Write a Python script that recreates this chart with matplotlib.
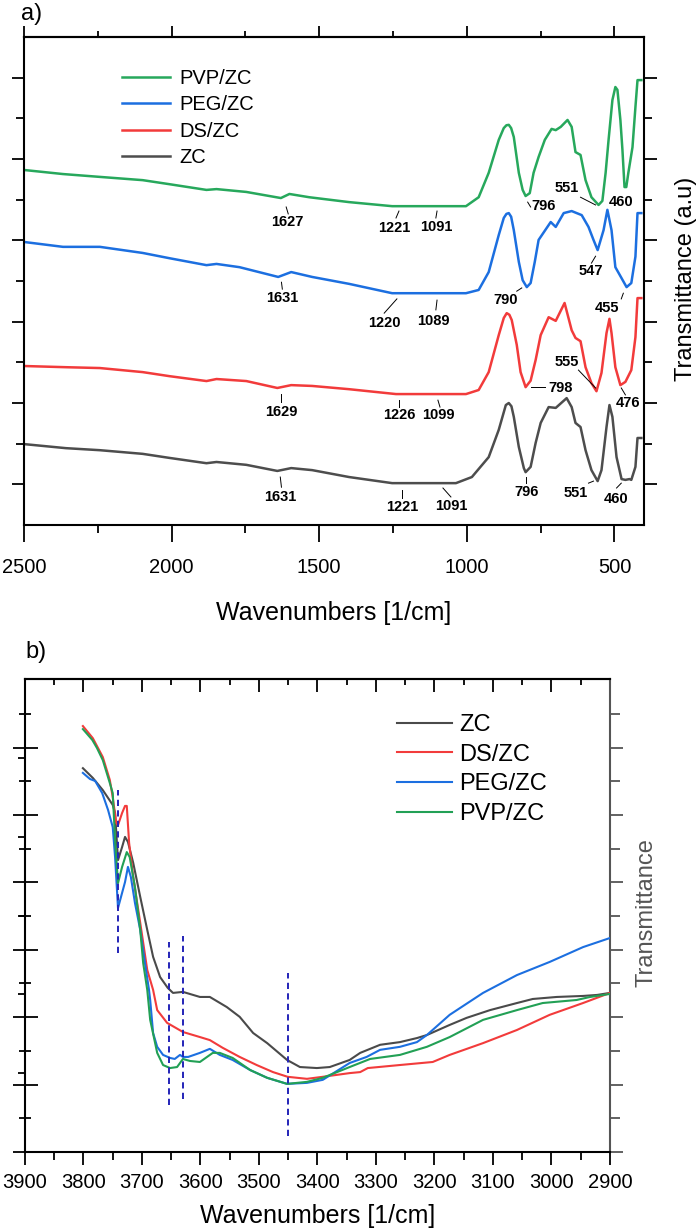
import matplotlib
matplotlib.use("Agg")
import matplotlib.pyplot as plt
from matplotlib.ticker import FixedLocator, MultipleLocator

plt.rcParams['font.family'] = ['Liberation Sans', 'DejaVu Sans']

# ---------------- panel a) : 2500-400 1/cm ----------------
wn_a_pvp = [2500, 2368, 2243, 2098, 2007, 1882, 1848, 1747, 1630, 1601, 1534, 1399, 1253, 1003,
            960, 926, 892, 875, 866, 858, 850, 841, 824, 811, 801, 787, 774, 757, 736, 713, 699,
            682, 659, 645, 632, 615, 598, 578, 554, 541, 530, 520, 507, 497, 490, 480, 473, 466,
            460, 453, 439, 429, 422, 409]
t_a_pvp = [8.73, 8.63, 8.56, 8.48, 8.38, 8.24, 8.26, 8.19, 8.04, 8.14, 8.06, 7.94, 7.84, 7.84,
           8.06, 8.66, 9.47, 9.76, 9.83, 9.84, 9.76, 9.54, 8.66, 8.24, 8.09, 8.16, 8.66, 9.05,
           9.47, 9.74, 9.71, 9.79, 9.96, 9.79, 9.17, 9.10, 8.48, 8.06, 7.87, 7.97, 8.66, 9.47,
           10.45, 10.77, 10.70, 9.96, 9.22, 8.31, 8.31, 8.66, 9.29, 10.28, 10.94, 10.94]

wn_a_peg = [2500, 2368, 2243, 2098, 2007, 1882, 1848, 1770, 1639, 1595, 1524, 1399, 1253, 1003,
            960, 926, 892, 875, 866, 858, 850, 841, 824, 811, 797, 784, 770, 757, 716, 699, 672,
            645, 611, 588, 571, 557, 537, 524, 510, 497, 476, 459, 443, 429, 422, 409]
t_a_peg = [6.96, 6.84, 6.84, 6.69, 6.56, 6.39, 6.42, 6.34, 6.10, 6.22, 6.10, 5.93, 5.70, 5.70,
           5.78, 6.22, 7.13, 7.55, 7.65, 7.67, 7.58, 7.25, 6.47, 6.02, 5.85, 5.95, 6.47, 7.01,
           7.45, 7.33, 7.67, 7.72, 7.62, 7.33, 7.01, 6.76, 7.25, 7.75, 7.25, 6.34, 6.07, 5.85,
           5.95, 6.60, 7.67, 7.67]

wn_a_ds = [2500, 2355, 2243, 2098, 2007, 1882, 1848, 1747, 1642, 1595, 1524, 1399, 1240, 1003,
           960, 926, 892, 875, 865, 856, 848, 831, 818, 801, 784, 767, 750, 723, 699, 669, 645,
           632, 615, 598, 578, 561, 544, 527, 517, 510, 497, 480, 463, 443, 429, 422, 409]
t_a_ds = [3.91, 3.88, 3.86, 3.76, 3.66, 3.54, 3.59, 3.54, 3.37, 3.44, 3.42, 3.34, 3.22, 3.22,
          3.32, 3.76, 4.67, 5.09, 5.21, 5.17, 5.04, 4.43, 3.76, 3.39, 3.55, 4.06, 4.67, 5.11,
          5.02, 5.46, 4.79, 4.60, 4.52, 3.88, 3.49, 3.29, 3.74, 4.72, 5.07, 4.72, 3.88, 3.44,
          3.52, 3.81, 4.62, 5.58, 5.58]

wn_a_zc = [2500, 2358, 2243, 2098, 2007, 1882, 1848, 1747, 1642, 1595, 1524, 1399, 1253, 1037,
           983, 926, 892, 868, 858, 849, 841, 824, 807, 801, 784, 767, 750, 723, 699, 662, 645,
           632, 615, 598, 578, 557, 544, 527, 517, 507, 493, 476, 463, 449, 443, 429, 422, 409]
t_a_zc = [1.99, 1.89, 1.84, 1.75, 1.65, 1.52, 1.55, 1.48, 1.33, 1.40, 1.35, 1.18, 1.03, 1.03,
          1.18, 1.67, 2.34, 2.95, 3.00, 2.92, 2.66, 1.92, 1.40, 1.30, 1.43, 2.02, 2.51, 2.90,
          2.88, 3.12, 2.90, 2.51, 2.41, 1.84, 1.35, 1.08, 1.35, 2.41, 2.95, 2.66, 1.67, 1.13,
          1.11, 1.13, 1.11, 1.43, 2.14, 2.14]

# peak labels: text, text position, leader line (x1, y1, x2, y2)
peak_labels = [
    ('1627', 1608, 7.45, 1612, 7.82, 1605, 7.65),
    ('1221', 1247, 7.30, 1230, 7.72, 1240, 7.55),
    ('1091', 1105, 7.33, 1101, 7.72, 1105, 7.55),
    ('796', 740, 7.84, 794, 7.94, 784, 7.82),
    ('551', 662, 8.29, 615, 8.06, 564, 7.87),
    ('460', 477, 7.94, None, None, None, None),
    ('1631', 1625, 5.58, 1628, 5.97, 1625, 5.80),
    ('1220', 1280, 4.97, 1237, 5.56, 1280, 5.21),
    ('1089', 1112, 5.02, 1101, 5.53, 1105, 5.29),
    ('790', 868, 5.53, 831, 5.75, 814, 5.83),
    ('547', 581, 6.25, 564, 6.61, 578, 6.44),
    ('455', 524, 5.34, 470, 5.70, 477, 5.56),
    ('1629', 1628, 2.78, 1628, 3.22, 1628, 3.02),
    ('1226', 1230, 2.70, 1230, 3.07, 1230, 2.90),
    ('1099', 1095, 2.70, 1098, 3.07, 1091, 2.90),
    ('798', 683, 3.37, 784, 3.39, 737, 3.39),
    ('555', 662, 4.01, 622, 3.81, 564, 3.37),
    ('476', 453, 3.00, 477, 3.37, 463, 3.20),
    ('1631', 1632, 0.69, 1632, 1.18, 1628, 0.93),
    ('1221', 1220, 0.44, 1220, 0.86, 1220, 0.66),
    ('1091', 1054, 0.47, 1081, 0.91, 1054, 0.69),
    ('796', 798, 0.81, 798, 1.18, 798, 1.03),
    ('551', 632, 0.79, 588, 1.03, 571, 1.08),
    ('460', 493, 0.64, 493, 0.91, 477, 1.03),
]

# ---------------- panel b) : 3900-2900 1/cm ----------------
wn_b_zc = [3801, 3784, 3767, 3750, 3746, 3741, 3734, 3729, 3724, 3715, 3703, 3691, 3681, 3669,
           3656, 3647, 3630, 3601, 3584, 3555, 3533, 3510, 3486, 3452, 3430, 3401, 3379, 3345,
           3327, 3293, 3259, 3230, 3213, 3174, 3145, 3105, 3059, 3032, 2991, 2946, 2922, 2900]
t_b_zc = [11.39, 11.10, 10.74, 10.30, 10.06, 8.66, 9.05, 9.35, 9.20, 8.58, 7.57, 6.59, 5.79, 5.19,
          4.87, 4.72, 4.75, 4.60, 4.60, 4.30, 4.01, 3.53, 3.23, 2.73, 2.52, 2.49, 2.52, 2.73,
          2.94, 3.18, 3.26, 3.38, 3.47, 3.77, 3.98, 4.21, 4.42, 4.54, 4.60, 4.63, 4.66, 4.72]

wn_b_ds = [3801, 3784, 3767, 3755, 3750, 3744, 3741, 3734, 3729, 3726, 3722, 3715, 3703, 3691,
           3681, 3674, 3657, 3630, 3601, 3584, 3562, 3533, 3504, 3476, 3451, 3418, 3391, 3345,
           3327, 3314, 3259, 3203, 3174, 3117, 3059, 3003, 2946, 2900]
t_b_ds = [12.64, 12.28, 11.72, 11.04, 10.53, 9.76, 9.70, 10.06, 10.27, 10.27, 9.17, 8.16, 6.80,
          5.40, 4.81, 4.21, 3.83, 3.56, 3.41, 3.32, 3.09, 2.82, 2.58, 2.37, 2.23, 2.17, 2.23,
          2.34, 2.37, 2.49, 2.58, 2.67, 2.88, 3.23, 3.62, 4.07, 4.42, 4.72]

wn_b_peg = [3801, 3789, 3780, 3768, 3758, 3750, 3746, 3741, 3734, 3729, 3724, 3719, 3712, 3703,
            3695, 3688, 3686, 3681, 3674, 3664, 3652, 3644, 3635, 3630, 3621, 3601, 3584, 3567,
            3545, 3515, 3486, 3452, 3418, 3391, 3345, 3316, 3293, 3259, 3230, 3213, 3174, 3117,
            3059, 3003, 2946, 2900]
t_b_peg = [11.25, 11.07, 11.01, 10.65, 10.15, 9.64, 8.75, 7.24, 7.69, 8.01, 8.46, 8.16, 7.39,
           6.59, 5.61, 4.81, 4.51, 3.53, 3.12, 2.88, 2.79, 2.76, 2.88, 2.82, 2.82, 2.94, 3.06,
           2.88, 2.73, 2.43, 2.20, 2.02, 2.05, 2.14, 2.64, 2.82, 3.03, 3.12, 3.26, 3.47, 4.07,
           4.72, 5.25, 5.64, 6.08, 6.35]

wn_b_pvp = [3801, 3785, 3777, 3767, 3755, 3750, 3746, 3741, 3734, 3726, 3721, 3712, 3703, 3698,
            3691, 3686, 3674, 3664, 3652, 3640, 3630, 3618, 3601, 3579, 3567, 3545, 3515, 3486,
            3452, 3418, 3391, 3345, 3310, 3259, 3213, 3174, 3117, 3059, 3015, 2957, 2934, 2900]
t_b_pvp = [12.55, 12.23, 11.99, 11.63, 10.95, 10.65, 9.26, 7.98, 8.46, 8.90, 8.75, 7.86, 6.59,
           5.61, 4.81, 3.92, 2.94, 2.58, 2.49, 2.52, 2.76, 2.70, 2.67, 2.94, 2.94, 2.79, 2.43,
           2.20, 2.02, 2.08, 2.20, 2.52, 2.76, 2.88, 3.12, 3.41, 3.92, 4.21, 4.42, 4.51, 4.60,
           4.69]

# dashed marker lines (position, lower end, upper end)
dash_x = [3741, 3654, 3630, 3450]
dash_lo = [5.91, 1.39, 1.57, 0.47]
dash_hi = [10.74, 6.23, 6.41, 5.31]

fig = plt.figure(figsize=(7, 12.29), dpi=100)

# ============ panel a ============
ax1 = fig.add_axes([0.0343, 0.5728, 0.8857, 0.3971])
l_zc, = ax1.plot(wn_a_zc, t_a_zc, color='#4d4d4d', lw=1.8, label='ZC')
l_ds, = ax1.plot(wn_a_ds, t_a_ds, color='#f23b3b', lw=1.8, label='DS/ZC')
l_peg, = ax1.plot(wn_a_peg, t_a_peg, color='#1c6fe0', lw=1.8, label='PEG/ZC')
l_pvp, = ax1.plot(wn_a_pvp, t_a_pvp, color='#27a85c', lw=1.8, label='PVP/ZC')

for lab, tx, ty, x1, y1, x2, y2 in peak_labels:
    ax1.text(tx, ty, lab, ha='center', va='center', fontsize=10.5, fontweight='bold')
    if x1 is not None:
        ax1.plot([x1, x2], [y1, y2], color='black', lw=0.7)

ax1.set_xlim(2500, 400)
ax1.set_ylim(0, 12)
ax1.set_xticks([2500, 2000, 1500, 1000, 500],
               labels=['2500', '2000', '1500', '1000', '500'], fontsize=14.5)
ax1.xaxis.set_minor_locator(MultipleLocator(250))
ax1.yaxis.set_major_locator(FixedLocator([1, 3, 5, 7, 9, 11]))
ax1.yaxis.set_minor_locator(FixedLocator([2, 4, 6, 8, 10]))
ax1.tick_params(axis='x', which='major', direction='out', length=12, width=1.3, pad=12)
ax1.tick_params(axis='x', which='minor', direction='out', length=6, width=1.3)
ax1.tick_params(axis='y', which='major', direction='out', length=9, width=1.3,
                left=True, right=True, labelleft=False)
ax1.tick_params(axis='y', which='minor', direction='out', length=6, width=1.3,
                left=True, right=True)
for s in ax1.spines.values():
    s.set_linewidth(1.5)

top1 = ax1.secondary_xaxis('top')
top1.set_xticks([2500, 2000, 1500, 1000, 500], labels=[])
top1.xaxis.set_minor_locator(MultipleLocator(250))
top1.tick_params(which='major', direction='out', length=8, width=1.3)
top1.tick_params(which='minor', direction='out', length=4, width=1.3)
top1.spines['top'].set_linewidth(1.5)

ax1.set_xlabel('Wavenumbers [1/cm]', fontsize=18)
ax1.xaxis.set_label_coords(0.5, -0.155)
ax1.yaxis.set_label_position('right')
ax1.set_ylabel('Transmittance (a.u)', fontsize=17)
ax1.yaxis.set_label_coords(1.05, 0.504)

ax1.legend(handles=[l_pvp, l_peg, l_ds, l_zc], loc='upper left', bbox_to_anchor=(0.158, 0.934),
           frameon=False, borderpad=0, borderaxespad=0, handlelength=2.4, handletextpad=0.45,
           labelspacing=0.36, fontsize=14.5)

# ============ panel b ============
ax2 = fig.add_axes([0.0357, 0.0627, 0.8357, 0.3849])
m_zc, = ax2.plot(wn_b_zc, t_b_zc, color='#4a4a4a', lw=1.5, label='ZC')
m_ds, = ax2.plot(wn_b_ds, t_b_ds, color='#f23b3b', lw=1.5, label='DS/ZC')
m_peg, = ax2.plot(wn_b_peg, t_b_peg, color='#1c6fe0', lw=1.5, label='PEG/ZC')
m_pvp, = ax2.plot(wn_b_pvp, t_b_pvp, color='#22a055', lw=1.5, label='PVP/ZC')

for x, lo, hi in zip(dash_x, dash_lo, dash_hi):
    ax2.plot([x, x], [lo, hi], color='#2424b8', lw=1.4, ls=(0, (3.2, 2.2)))

ax2.set_xlim(3900, 2900)
ax2.set_ylim(0, 14.04)
bx = list(range(3900, 2899, -100))
ax2.set_xticks(bx, labels=[str(v) for v in bx], fontsize=14.5)
ax2.xaxis.set_minor_locator(MultipleLocator(50))
ax2.yaxis.set_major_locator(FixedLocator([0, 2, 4, 6, 8, 10, 12]))
ax2.yaxis.set_minor_locator(FixedLocator([1, 3, 5, 7, 9, 11, 13]))
ax2.tick_params(axis='x', which='major', direction='out', length=9, width=1.3, pad=6)
ax2.tick_params(axis='x', which='minor', direction='out', length=6, width=1.3)
ax2.tick_params(axis='y', which='major', direction='inout', length=18, width=1.3,
                right=False, labelleft=False)
ax2.tick_params(axis='y', which='minor', direction='inout', length=9, width=1.3, right=False)
for s in ('left', 'bottom', 'top'):
    ax2.spines[s].set_linewidth(1.5)
ax2.spines['right'].set_visible(False)

top2 = ax2.secondary_xaxis('top')
top2.set_xticks(bx, labels=[])
top2.xaxis.set_minor_locator(MultipleLocator(50))
top2.tick_params(which='major', direction='in', length=9, width=1.3)
top2.tick_params(which='minor', direction='in', length=4, width=1.3)
top2.spines['top'].set_linewidth(1.5)

left2 = ax2.secondary_yaxis('left')
left2.set_yticks([2.34, 4.69, 7.0, 9.35, 11.69], labels=[])
left2.tick_params(direction='out', length=5, width=1.3)
left2.spines['left'].set_visible(False)

right2 = ax2.secondary_yaxis('right')
right2.set_yticks([0, 2, 4, 6, 8, 10, 12], labels=[])
right2.yaxis.set_minor_locator(FixedLocator([1, 3, 5, 7, 9, 11, 13]))
right2.tick_params(which='major', direction='out', length=9, width=1.3, color='#555555')
right2.tick_params(which='minor', direction='out', length=7, width=1.3, color='#555555')
right2.spines['right'].set_color('#555555')
right2.spines['right'].set_linewidth(1.5)
fig.text(0.924, 0.2571, 'Transmittance', fontsize=17, color='#555555',
         rotation=90, ha='center', va='center')

ax2.set_xlabel('Wavenumbers [1/cm]', fontsize=18)
ax2.xaxis.set_label_coords(0.5, -0.11)

ax2.legend(handles=[m_zc, m_ds, m_peg, m_pvp], loc='upper left', bbox_to_anchor=(0.636, 0.926),
           frameon=False, borderpad=0, borderaxespad=0, handlelength=2.33, handletextpad=0.3,
           labelspacing=0.33, fontsize=17)

fig.text(0.0457, 0.9886, 'a)', fontsize=17, ha='center', va='center')
fig.text(0.0514, 0.4695, 'b)', fontsize=17, ha='center', va='center')

fig.savefig('out.png', dpi=100)
